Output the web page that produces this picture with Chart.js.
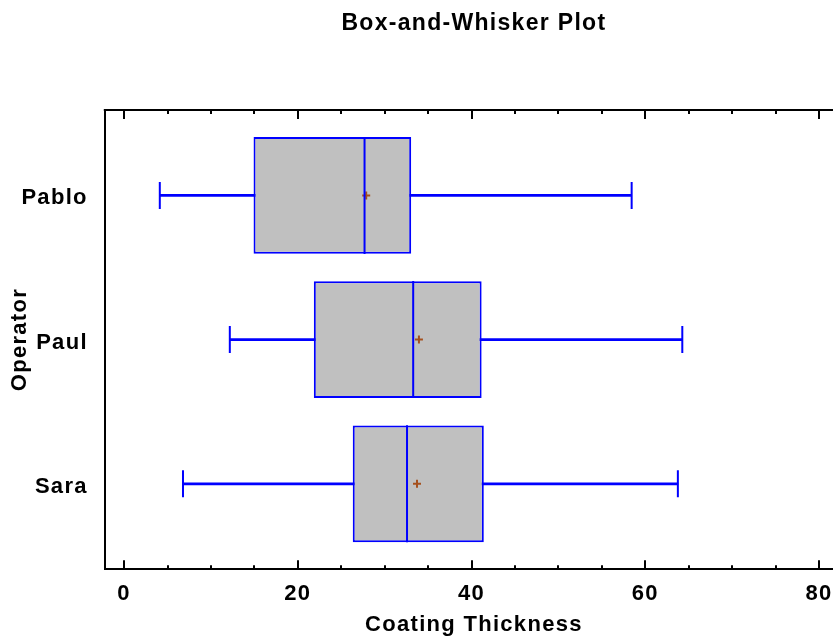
<!DOCTYPE html>
<html><head><meta charset="utf-8">
<script src="https://cdn.jsdelivr.net/npm/chart.js@4"></script>
<style>html,body{margin:0;padding:0;overflow:hidden;background:#fff}canvas{display:block}</style>
</head><body>
<canvas id="c" width="843" height="639"></canvas>
<script>
// ---- data ----
const operators   = ['Pablo', 'Paul', 'Sara'];
const whiskerLow  = [4.11, 12.17, 6.78];
const quartile1   = [14.90, 21.84, 26.32];
const medians     = [27.68, 33.28, 32.57];
const quartile3   = [33.05, 41.16, 41.41];
const whiskerHigh = [58.43, 64.26, 63.75];
const means       = [27.87, 33.94, 33.72];
const xMajorTicks = [0, 20, 40, 60, 80];
const xMinorTicks = [5, 10, 15, 25, 30, 35, 45, 50, 55, 65, 70, 75];

const FONT = "'Liberation Sans', Arial, sans-serif";
const BLUE = '#0000ff';
const SPACING = '1.3px';

const spacingPlugin = {
  id: 'spacing',
  afterInit(c) { c.ctx.letterSpacing = SPACING; },
  beforeUpdate(c) { c.ctx.letterSpacing = SPACING; },
  beforeDraw(c) { c.ctx.letterSpacing = SPACING; }
};

const frameTicks = {
  id: 'frameTicks',
  afterDraw(chart) {
    const {ctx, chartArea: {left, right, top, bottom}, scales: {x}} = chart;
    ctx.save();
    ctx.strokeStyle = '#000';
    ctx.lineWidth = 2;
    ctx.beginPath();
    ctx.moveTo(left - 1, top);
    ctx.lineTo(right, top);
    const mark = (v, len) => {
      const px = Math.round(x.getPixelForValue(v));
      ctx.moveTo(px, top); ctx.lineTo(px, top + len);
      ctx.moveTo(px, bottom); ctx.lineTo(px, bottom - len);
    };
    xMajorTicks.forEach(v => mark(v, 9));
    xMinorTicks.forEach(v => mark(v, 4));
    ctx.stroke();
    ctx.restore();
  }
};

const idx = operators.map((_, i) => i);

new Chart(document.getElementById('c'), {
  type: 'bar',
  data: {
    datasets: [
      { // median line
        type: 'scatter', order: 1,
        data: idx.map(i => ({x: medians[i], y: i})),
        pointStyle: 'line', pointRotation: 90, pointRadius: 58.5,
        pointBorderWidth: 2, pointBorderColor: BLUE, pointBackgroundColor: BLUE
      },
      { // mean marker
        type: 'scatter', order: 2,
        data: idx.map(i => ({x: means[i], y: i})),
        pointStyle: 'cross', pointRadius: 4,
        pointBorderWidth: 2, pointBorderColor: '#a5501e', pointBackgroundColor: '#a5501e'
      },
      { // box
        type: 'bar', order: 3, indexAxis: 'y', grouped: false,
        data: idx.map(i => ({x: [quartile1[i], quartile3[i]], y: i})),
        backgroundColor: '#c0c0c0', borderColor: BLUE, borderWidth: 2, borderSkipped: false,
        barPercentage: 0.81, categoryPercentage: 1
      },
      { // whisker caps
        type: 'scatter', order: 4,
        data: idx.flatMap(i => [{x: whiskerLow[i], y: i}, {x: whiskerHigh[i], y: i}]),
        pointStyle: 'line', pointRotation: 90, pointRadius: 13.5,
        pointBorderWidth: 2, pointBorderColor: BLUE, pointBackgroundColor: BLUE
      },
      { // whisker line
        type: 'bar', order: 5, indexAxis: 'y', grouped: false,
        data: idx.map(i => ({x: [whiskerLow[i], whiskerHigh[i]], y: i})),
        backgroundColor: BLUE, borderWidth: 0, maxBarThickness: 2,
        barPercentage: 1, categoryPercentage: 1
      }
    ]
  },
  options: {
    responsive: false,
    animation: false,
    events: [],
    layout: { padding: 0, autoPadding: false },
    plugins: {
      legend: { display: false },
      tooltip: { enabled: false },
      title: {
        display: true, text: 'Box-and-Whisker Plot', fullSize: false,
        color: '#000', font: { family: FONT, size: 23, weight: 'bold' },
        padding: { top: 10, bottom: 72.4 }
      }
    },
    scales: {
      x: {
        type: 'linear', position: 'bottom', offset: false, beginAtZero: false, grace: 0,
        min: -2.222, max: 82.76,
        afterBuildTicks: s => { s.ticks = xMajorTicks.map(v => ({value: v})); },
        afterFit: s => { s.paddingLeft = 0; s.paddingRight = 0; },
        ticks: { color: '#000', font: { family: FONT, size: 22, weight: 'bold' }, padding: 12, maxRotation: 0 },
        grid: { display: false, drawTicks: false, offset: false },
        border: { display: true, color: '#000', width: 2 },
        title: { display: true, text: 'Coating Thickness', color: '#000',
                 font: { family: FONT, size: 22, weight: 'bold' }, padding: { top: -8, bottom: 1 } }
      },
      y: {
        type: 'linear', position: 'left', reverse: true, offset: false, beginAtZero: false, grace: 0,
        min: -0.592, max: 2.592,
        afterBuildTicks: s => { s.ticks = idx.map(v => ({value: v})); },
        ticks: { color: '#000', font: { family: FONT, size: 22, weight: 'bold' }, padding: 17,
                 labelOffset: 3, callback: v => operators[v] },
        grid: { display: false, drawTicks: false, offset: false },
        border: { display: true, color: '#000', width: 2 },
        title: { display: true, text: 'Operator', color: '#000',
                 font: { family: FONT, size: 22, weight: 'bold' }, padding: { top: 7, bottom: -29 } }
      }
    }
  },
  plugins: [spacingPlugin, frameTicks]
});
</script>
</body></html>
